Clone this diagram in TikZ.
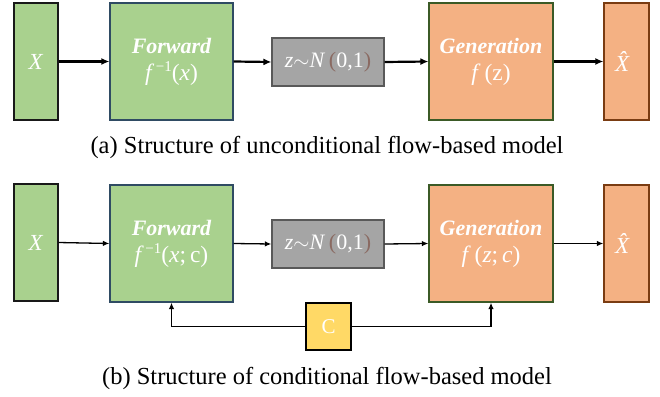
\documentclass[tikz,border=0pt]{standalone}
\usepackage{fontspec}
\setmainfont{Liberation Serif}
\usetikzlibrary{arrows.meta}
\definecolor{boxgreen}{HTML}{A9D18E}
\definecolor{boxorange}{HTML}{F4B183}
\definecolor{boxgray}{HTML}{A5A5A5}
\definecolor{boxyellow}{HTML}{FFD966}
\definecolor{edgeblue}{HTML}{2F4B63}
\definecolor{edgegreen}{HTML}{3B5A26}
\definecolor{edgebrown}{HTML}{7A3C12}
\definecolor{edgegray}{HTML}{595959}
\definecolor{parenbrown}{HTML}{8A6A62}
\newcommand{\ttl}[1]{{\fontsize{22}{24}\selectfont\bfseries\itshape #1}}
\newcommand{\formula}[1]{{\fontsize{23.5}{26}\selectfont #1}}
\newcommand{\inv}{\kern1.5pt\raisebox{0.36em}{\fontsize{15}{16}\selectfont −1}}
\newcommand{\normaldist}{\textit{z}{\color{white}$\sim$}\textit{N}\,{\color{parenbrown}(}0,1{\color{parenbrown})}}
\begin{document}
\begin{tikzpicture}[x=1pt,y=-1pt,
  blockbase/.style={draw, line width=1.2pt, inner sep=0pt, text=white, align=center, font=\fontsize{23}{26}\selectfont},
  greenbox/.style={blockbase, fill=boxgreen},
  orangebox/.style={blockbase, fill=boxorange},
  graybox/.style={blockbase, fill=boxgray, draw=edgegray, minimum width=112pt, minimum height=48pt, font=\fontsize{22}{24}\selectfont},
  yellowbox/.style={blockbase, fill=boxyellow, draw=black, minimum width=45pt, minimum height=47pt, font=\fontsize{21}{24}\selectfont},
  thin box/.style={minimum width=44pt, minimum height=117pt},
  wide box/.style={minimum width=123pt, minimum height=117pt},
  flowbold/.style={-{Latex[length=8pt,width=7pt]}, line width=2.2pt},
  flowthin/.style={-{Latex[length=6.5pt,width=5.5pt]}, line width=1.3pt},
  caption/.style={font=\fontsize{24.5}{28}\selectfont, text=black}
]
\useasboundingbox (0,0) rectangle (660,396);

% (a) unconditional model
\node[greenbox, thin box, draw=black!90] (xa) at (36,61.5) {\textit{X}};
\node[greenbox, wide box, draw=edgeblue] (fa) at (171.5,61.5) {\ttl{Forward}\\[1pt]\formula{\textit{f}\inv(\textit{x})}};
\node[graybox] (za) at (328,62) {\normaldist};
\node[orangebox, wide box, minimum width=124pt, draw=edgegreen] (ga) at (491,61.5) {\ttl{Generation}\\[1pt]\formula{\textit{f}\,(z)}};
\node[orangebox, thin box, minimum width=45pt, draw=edgebrown] (ya) at (626.5,61.5) {\textit{X̂}};
\draw[flowbold] (xa.east) -- (fa.west);
\draw[flowbold] (fa.east) -- (za.west);
\draw[flowbold] (za.east) -- (ga.west);
\draw[flowbold] (ga.east) -- (ya.west);
\node[caption] (capa) at (327,147) {(a) Structure of unconditional flow-based model};

% (b) conditional model
\node[greenbox, thin box, draw=black!90] (xb) at (36,242.5) {\textit{X}};
\node[greenbox, wide box, draw=edgeblue] (fb) at (171.5,243.5) {\ttl{Forward}\\[1pt]\formula{\textit{f}\inv(\textit{x};\,c)}};
\node[graybox] (zb) at (328,244) {\normaldist};
\node[orangebox, wide box, minimum width=124pt, draw=edgegreen] (gb) at (491,243.5) {\ttl{Generation}\\[1pt]\formula{\textit{f}\,(\textit{z};\,\textit{c})}};
\node[orangebox, thin box, minimum width=45pt, draw=edgebrown] (yb) at (626.5,243.5) {\textit{X̂}};
\node[yellowbox] (cb) at (328.5,326.5) {C};
\draw[flowthin] (xb.east) -- (fb.west);
\draw[flowthin] (fb.east) -- (zb.west);
\draw[flowthin] (zb.east) -- (gb.west);
\draw[flowthin] (gb.east) -- (yb.west);
\draw[flowthin] (cb.west) -| (fb.south);
\draw[flowthin] (cb.east) -| (gb.south);
\node[caption] (capb) at (327,378) {(b) Structure of conditional flow-based model};
\end{tikzpicture}
\end{document}
